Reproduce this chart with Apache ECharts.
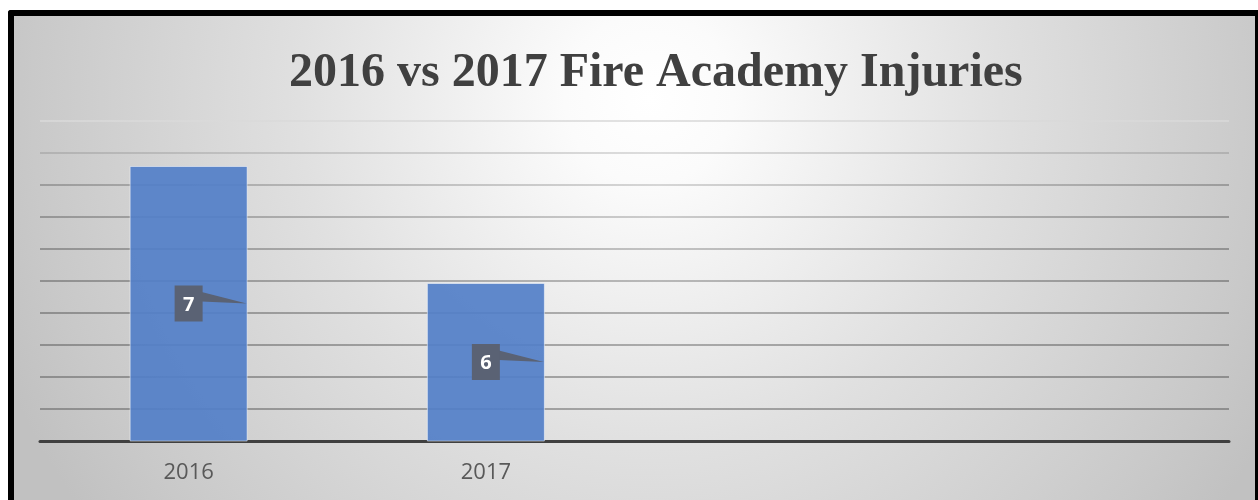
<!DOCTYPE html>
<html>
<head>
<meta charset="utf-8">
<script src="https://cdn.jsdelivr.net/npm/echarts@6/dist/echarts.min.js"></script>
<style>
  html, body { margin: 0; padding: 0; background: #ffffff; width: 1258px; height: 500px; overflow: hidden; }
  #frame { position: absolute; left: 8px; top: 10px; border-left: 6px solid #000; border-top: 6px solid #000; border-right: 3px solid #000; border-top-left-radius: 3px; }
  #chart { width: 1241px; height: 484px; }
</style>
</head>
<body>
<div id="frame"><div id="chart"></div></div>
<script>
// ---- data ----
const titleText = '2016 vs 2017 Fire Academy Injuries';
const categories = ['2016', '2017', '', ''];
const injuries = [7, 6];
const dataLabels = ['7', '6'];

// value axis layout (hidden labels)
const axisInterval = 0.2735;
const axisMin = 17 * axisInterval;
const axisMax = 27 * axisInterval;

const chart = echarts.init(document.getElementById('chart'), null, { renderer: 'canvas' });

// gridline colours, bottom (at axis) to top: darker at edges, lighter at centre / top
function lineColor(edge, center) {
  return {
    type: 'linear', x: 26, y: 0, x2: 1215, y2: 0, global: true,
    colorStops: [
      { offset: 0, color: edge },
      { offset: 0.52, color: center },
      { offset: 1, color: edge }
    ]
  };
}
const topLine = lineColor('#d6d6d6', '#e2e2e2');
const gridColors = [
  lineColor('#404040', '#404040'),
  lineColor('#8e8e8e', '#a4a4a4'),
  lineColor('#8e8e8e', '#a6a6a6'),
  lineColor('#8e8e8e', '#aaaaaa'),
  lineColor('#8f8f8f', '#b0b0b0'),
  lineColor('#909090', '#b8b8b8'),
  lineColor('#929292', '#c2c2c2'),
  lineColor('#969696', '#cccccc'),
  lineColor('#9c9c9c', '#d6d6d6'),
  lineColor('#b2b2b2', '#dddddd'),
  topLine,
  topLine,
  topLine
];

const option = {
  backgroundColor: {
    type: 'radial', x: 0.512, y: 0.17, r: 1.45,
    colorStops: [
      { offset: 0, color: '#ffffff' },
      { offset: 0.12, color: '#fbfbfb' },
      { offset: 0.5, color: '#e0e0e0' },
      { offset: 0.88, color: '#c9c9c9' },
      { offset: 1, color: '#c1c1c1' }
    ]
  },
  animation: false,
  title: {
    text: titleText,
    left: 270,
    top: 29,
    textStyle: {
      fontFamily: 'Liberation Serif',
      fontWeight: 'bold',
      fontSize: 48,
      lineHeight: 48,
      color: '#404040'
    }
  },
  grid: { left: 26, right: 26, top: 105, bottom: 59, containLabel: false },
  xAxis: {
    type: 'category',
    data: categories,
    axisTick: { show: false },
    axisLine: { show: true, lineStyle: { color: '#404040', width: 3 } },
    axisLabel: {
      margin: 21,
      fontFamily: 'Open Sans',
      fontSize: 22,
      lineHeight: 22,
      color: '#595959'
    },
    splitLine: { show: false }
  },
  yAxis: {
    type: 'value',
    min: axisMin,
    max: axisMax,
    interval: axisInterval,
    axisLabel: { show: false },
    axisTick: { show: false },
    axisLine: { show: false },
    splitLine: { show: true, lineStyle: { color: gridColors, width: 2 } }
  },
  series: [
    {
      type: 'bar',
      data: injuries,
      barWidth: 118,
      itemStyle: {
        color: '#527fc8',
        opacity: 0.92,
        borderColor: 'rgba(255,255,255,0.55)',
        borderWidth: 1
      },
      z: 2
    },
    {
      type: 'custom',
      z: 5,
      data: injuries.map((v, i) => [i, v]),
      renderItem: function (params, api) {
        const idx = api.value(0);
        const val = api.value(1);
        const top = api.coord([idx, val]);
        const bottom = api.coord([idx, axisMin]);
        const cx = top[0];
        const cy = (top[1] + bottom[1]) / 2;
        const halfBar = 59;
        const bw = 28, bh = 36;
        const col = '#5a6274';
        return {
          type: 'group',
          children: [
            {
              type: 'polygon',
              shape: { points: [[cx + bw / 2 - 1, cy - 11.5], [cx + halfBar - 1, cy], [cx + bw / 2 - 1, cy - 2]] },
              style: { fill: col }
            },
            {
              type: 'rect',
              shape: { x: cx - bw / 2, y: cy - bh / 2, width: bw, height: bh },
              style: { fill: col }
            },
            {
              type: 'text',
              x: cx,
              y: cy + 1.5,
              style: {
                text: dataLabels[params.dataIndex],
                fill: '#ffffff',
                font: 'bold 20px "Open Sans"',
                align: 'center',
                verticalAlign: 'middle'
              }
            }
          ]
        };
      }
    }
  ]
};

chart.setOption(option);
</script>
</body>
</html>
